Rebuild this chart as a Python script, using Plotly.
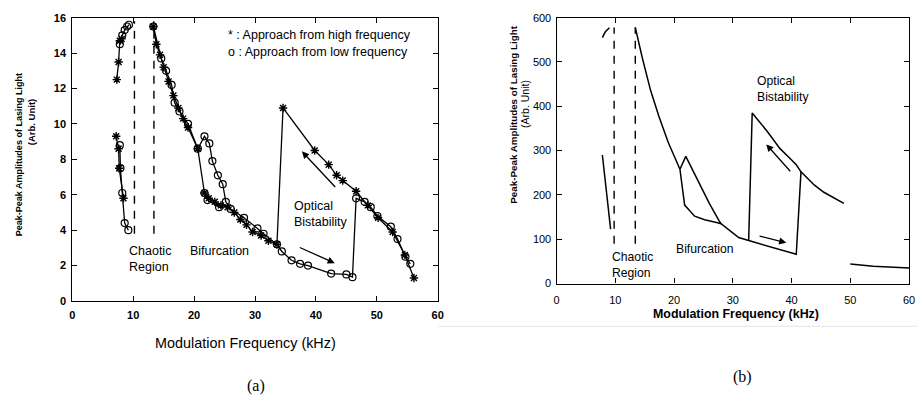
import plotly.graph_objects as go

# ---------------- Panel (a): measured data ----------------
# Approach from high frequency (stars); None separates branches
star_x = [7.3, 7.6, 7.8, 8.1, None,
          7.2, 7.6, 7.7, 8.4, None,
          13.3, 13.8, 14.4, 15.0, 15.8, 16.6, 17.4, 18.2, 19.0, 20.6,
          21.7, 22.4, 23.4, 24.4, 25.5, 26.6, 27.6, 28.6, 29.6, 31.0, 32.2, 33.6,
          34.6, 39.8, 42.1, 43.4, 44.4, 46.6, 48.5, 50.2, 52.6, 54.6, 56.1]
star_y = [12.5, 13.5, 14.7, 14.8, None,
          9.3, 8.6, 7.5, 5.8, None,
          15.5, 14.5, 13.9, 13.2, 12.4, 11.6, 10.9, 10.3, 9.8, 8.6,
          6.1, 5.8, 5.6, 5.4, 5.3, 5.0, 4.6, 4.3, 3.9, 3.7, 3.4, 3.2,
          10.9, 8.5, 7.7, 7.1, 6.8, 6.2, 5.4, 4.7, 3.9, 2.6, 1.3]

# Approach from low frequency (circles)
circ_x = [7.8, 8.2, 8.6, 9.0, 9.3, None,
          7.8, 7.9, 8.2, 8.6, 9.2, None,
          13.3, 14.6, 15.4, 16.3, 16.8, 17.6, 19.0, 20.6,
          21.7, 22.5, 23.0, 23.9, 24.7, 25.2, 26.0, 28.2, 30.4, 31.4, 33.6,
          34.4, 36.0, 37.4, 38.7, 42.5, 45.0, 46.0,
          46.6, 48.0, 49.0, 50.1, 52.3, 53.4, 54.7, 55.5, None,
          21.7, 22.2, 24.1]
circ_y = [14.5, 15.0, 15.3, 15.5, 15.6, None,
          8.8, 7.5, 6.1, 4.4, 4.0, None,
          15.5, 13.7, 13.0, 12.2, 11.2, 10.7, 10.0, 8.6,
          9.3, 8.9, 7.9, 7.1, 6.6, 5.6, 5.2, 4.7, 4.1, 3.8, 3.2,
          2.8, 2.3, 2.1, 2.0, 1.55, 1.5, 1.35,
          5.8, 5.6, 5.3, 4.8, 4.2, 3.5, 2.5, 2.1, None,
          6.1, 5.7, 5.3]

a_chaos_x = [10.2, 13.4]
a_chaos_y = [3.8, 15.8]

# ---------------- Panel (b): simulation ----------------
sim_x = [7.8, 8.3, 9.0, None,
         7.8, 9.2, None,
         13.4, 13.7, 14.6, 16.0, 17.4, 19.0, 21.0, 22.0, 24.1, 26.0, 27.7, 28.0, None,
         21.0, 21.8, 23.5, 25.2, 27.4, 28.0, 31.0, 32.7, 40.8, 41.6, None,
         32.7, 33.3, 36.0, 38.0, 40.0, 40.8, 41.6, 43.9, 45.5, 48.9, None,
         50.0, 53.9, 60.0]
sim_y = [555, 568, 577, None,
         290, 123, None,
         578, 560, 509, 436, 378, 319, 258, 287, 232, 181, 141, 135, None,
         258, 177, 152, 144, 137, 135, 104, 97, 66, 252, None,
         97, 385, 341, 305, 279, 268, 252, 222, 206, 181, None,
         44, 39, 35]

b_chaos_x = [9.8, 13.4]
b_chaos_y = [90, 578]

fig = go.Figure()

fig.add_trace(go.Scatter(x=star_x, y=star_y, mode="lines+markers", xaxis="x", yaxis="y",
                         line=dict(color="black", width=1.3),
                         marker=dict(symbol="asterisk-open", size=7, color="black",
                                     line=dict(color="black", width=1.4)),
                         showlegend=False))
fig.add_trace(go.Scatter(x=circ_x, y=circ_y, mode="lines+markers", xaxis="x", yaxis="y",
                         line=dict(color="black", width=1.3),
                         marker=dict(symbol="circle-open", size=7, color="black",
                                     line=dict(color="black", width=1.2)),
                         showlegend=False))
for xv in a_chaos_x:
    fig.add_trace(go.Scatter(x=[xv, xv], y=a_chaos_y, mode="lines", xaxis="x", yaxis="y",
                             line=dict(color="black", width=1.4, dash="8px,7px"),
                             showlegend=False))

fig.add_trace(go.Scatter(x=sim_x, y=sim_y, mode="lines", xaxis="x2", yaxis="y2",
                         line=dict(color="black", width=1.5), showlegend=False))
for xv in b_chaos_x:
    fig.add_trace(go.Scatter(x=[xv, xv], y=b_chaos_y, mode="lines", xaxis="x2", yaxis="y2",
                             line=dict(color="black", width=1.4, dash="8px,7px"),
                             showlegend=False))

W, H = 923, 407
axis_common = dict(showline=True, linecolor="black", linewidth=1.2, mirror="allticks",
                   ticks="inside", ticklen=5, tickcolor="black", tickwidth=1,
                   showgrid=False, zeroline=False)

fig.update_layout(
    width=W, height=H, margin=dict(l=0, r=0, t=0, b=0),
    paper_bgcolor="white", plot_bgcolor="white",
    font=dict(family="Liberation Sans, Arial, sans-serif", color="black"),
    xaxis=dict(domain=[70 / W, 439 / W], range=[0, 60], dtick=10, anchor="y",
               tickfont=dict(size=11, weight="bold"), ticklabelstandoff=4, **axis_common),
    yaxis=dict(domain=[1 - 304 / H, 1 - 12 / H], range=[0, 16], dtick=2, anchor="x",
               tickfont=dict(size=11, weight="bold"), ticklabelstandoff=3, **axis_common),
    xaxis2=dict(domain=[559 / W, 915 / W], range=[0, 60], dtick=10, anchor="y2",
                tickfont=dict(size=11), ticklabelstandoff=6, **axis_common),
    yaxis2=dict(domain=[1 - 286 / H, 1 - 12 / H], range=[0, 600], dtick=100, anchor="x2",
                tickfont=dict(size=11), ticklabelstandoff=2, **axis_common),
)

def px(xp, yp):
    return xp / W, 1 - yp / H

NARROW = "Liberation Sans Narrow, Arial Narrow, Roboto Condensed, Liberation Sans, sans-serif"

ann = []
# axis titles panel (a)
x0, y0 = px(17, 153)
ann.append(dict(x=x0, y=y0, text="Peak-Peak Amplitudes of Lasing Light", textangle=-90,
                font=dict(size=9, weight="bold")))
x0, y0 = px(29, 120)
ann.append(dict(x=x0, y=y0, text="(Arb. Unit)", textangle=-90, font=dict(size=9.5, weight="bold")))
x0, y0 = px(245, 347)
ann.append(dict(x=x0, y=y0, text="Modulation Frequency (kHz)", font=dict(size=14.4)))
x0, y0 = px(255, 392)
ann.append(dict(x=x0, y=y0, text="(a)", font=dict(size=16, family="Liberation Serif, Times New Roman, serif")))
# axis titles panel (b)
x0, y0 = px(516, 112)
ann.append(dict(x=x0, y=y0, text="Peak-Peak Amplitudes of Lasing Light", textangle=-90,
                font=dict(size=9.8, weight="bold")))
x0, y0 = px(527, 101)
ann.append(dict(x=x0, y=y0, text="(Arb. Unit)", textangle=-90, font=dict(size=10.5)))
x0, y0 = px(740, 317)
ann.append(dict(x=x0, y=y0, text="Modulation Frequency (kHz)", font=dict(size=12.4, weight="bold")))
x0, y0 = px(747, 382)
ann.append(dict(x=x0, y=y0, text="(b)", font=dict(size=16, family="Liberation Serif, Times New Roman, serif")))
for a in ann:
    a.update(xref="paper", yref="paper", showarrow=False, xanchor="center", yanchor="middle")

# in-plot text panel (a)
txt_a = [
    (25.2, 15.0, "* : Approach from high frequency"),
    (25.2, 14.07, "o : Approach from low frequency"),
    (8.9, 2.4, "Chaotic<br>Region"),
    (19.0, 2.85, "Bifurcation"),
    (36.1, 4.9, "Optical<br>Bistability"),
]
for x, y, t in txt_a:
    ann.append(dict(x=x, y=y, xref="x", yref="y", text=t, showarrow=False, xanchor="left",
                    yanchor="middle", align="left", font=dict(size=12.5)))
# in-plot text panel (b)
txt_b = [
    (9.1, 41.6, "Chaotic<br>Region"),
    (20.0, 79, "Bifurcation"),
    (33.8, 440, "Optical<br>Bistability"),
]
for x, y, t in txt_b:
    ann.append(dict(x=x, y=y, xref="x2", yref="y2", text=t, showarrow=False, xanchor="left",
                    yanchor="middle", align="left", font=dict(size=12.2)))

# arrows
arrows = [
    ("x", "y", 43.4, 6.35, 37.7, 8.45),
    ("x", "y", 37.1, 3.06, 43.1, 2.14),
    ("x2", "y2", 40.0, 250, 35.7, 314),
    ("x2", "y2", 34.3, 108, 39.1, 92),
]
for xr, yr, tx, ty, hx, hy in arrows:
    ann.append(dict(x=hx, y=hy, ax=tx, ay=ty, xref=xr, yref=yr, axref=xr, ayref=yr,
                    showarrow=True, arrowhead=2, arrowsize=1.1, arrowwidth=1.3,
                    arrowcolor="black", text=""))

fig.update_layout(annotations=ann)

# faint scan edge under panel (b)
fig.add_shape(type="line", xref="paper", yref="paper", x0=440 / W, x1=1, y0=1 - 330 / H,
              y1=1 - 330 / H, line=dict(color="#e4e4e4", width=1))

fig.write_html("out.html")
